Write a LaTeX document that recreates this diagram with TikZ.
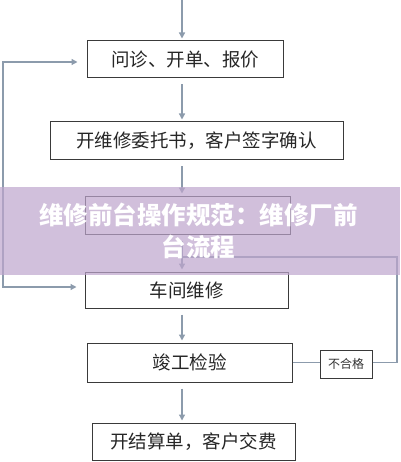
\documentclass[tikz,border=0pt]{standalone}
\usepackage{fontspec}
\newfontfamily\cjk{Noto Sans CJK SC}
\usetikzlibrary{arrows.meta}
\definecolor{boxline}{HTML}{3A3A3A}
\definecolor{arrowc}{HTML}{8C9BAC}
\definecolor{bandc}{HTML}{BEA5CD}
\begin{document}
\begin{tikzpicture}[x=1pt,y=-1pt,
  box/.style={draw=boxline, line width=1pt, fill=white, inner sep=0pt,
    font=\cjk\fontsize{18.5}{20}\selectfont, text=black!85},
  smallbox/.style={draw=boxline, line width=1pt, fill=white, inner sep=0pt,
    font=\cjk\fontsize{12}{14}\selectfont, text=black!80},
  flow/.style={draw=arrowc, line width=1.3pt, -{Triangle[length=6pt,width=6pt]},
    shorten <=6pt, shorten >=2pt},
  link/.style={draw=arrowc, line width=1.3pt}]
\useasboundingbox (0,0) rectangle (400,462);
\node[box, minimum width=196pt, minimum height=37pt] (b1) at (185,59.5) {问诊、开单、报价};
\node[box, minimum width=293pt, minimum height=38pt] (b2) at (196.5,141) {开维修委托书，客户签字确认};
\node[box, minimum width=205pt, minimum height=38pt] (b3) at (187.5,215) {};
\node[box, minimum width=203pt, minimum height=36pt] (b4) at (186.5,290) {车间维修};
\node[box, minimum width=205pt, minimum height=39pt] (b5) at (189.5,362.5) {竣工检验};
\node[box, minimum width=203pt, minimum height=37pt] (b6) at (193.5,441.5) {开结算单，客户交费};
\node[smallbox, minimum width=52pt, minimum height=28pt] (ng) at (346,364) {不合格};
\coordinate (top) at (182,0);
\coordinate (join) at (182,257);
\draw[flow, shorten <=0pt] (top) -- (b1.north -| top);
\draw[flow] (b1.south -| top) -- (b2.north -| top);
\draw[flow] (b2.south -| top) -- (b3.north -| top);
\draw[flow] (b3.south -| top) -- (b4.north -| top);
\draw[flow] (b4.south -| top) -- (b5.north -| top);
\draw[flow] (b5.south -| top) -- (b6.north -| top);
\draw[link] (b5.east) -- (b5.east -| ng.west);
\draw[link] (ng.east |- b5.east) -- (397,362.5) |- (join);
\draw[link, {Triangle[length=6pt,width=6pt]}-{Triangle[length=6pt,width=6pt]},
  shorten <=9pt, shorten >=8pt] ([yshift=-2.5pt]b1.west) -- (3,62) |- ([yshift=3pt]b4.west);
\fill[bandc, opacity=0.7] (0,187) rectangle (400,275);
\node[font=\cjk\bfseries\fontsize{24.5}{32}\selectfont, text=white, align=center, inner sep=0pt]
  (title) at (198.5,231) {维修前台操作规范：维修厂前\\台流程};
\end{tikzpicture}
\end{document}
